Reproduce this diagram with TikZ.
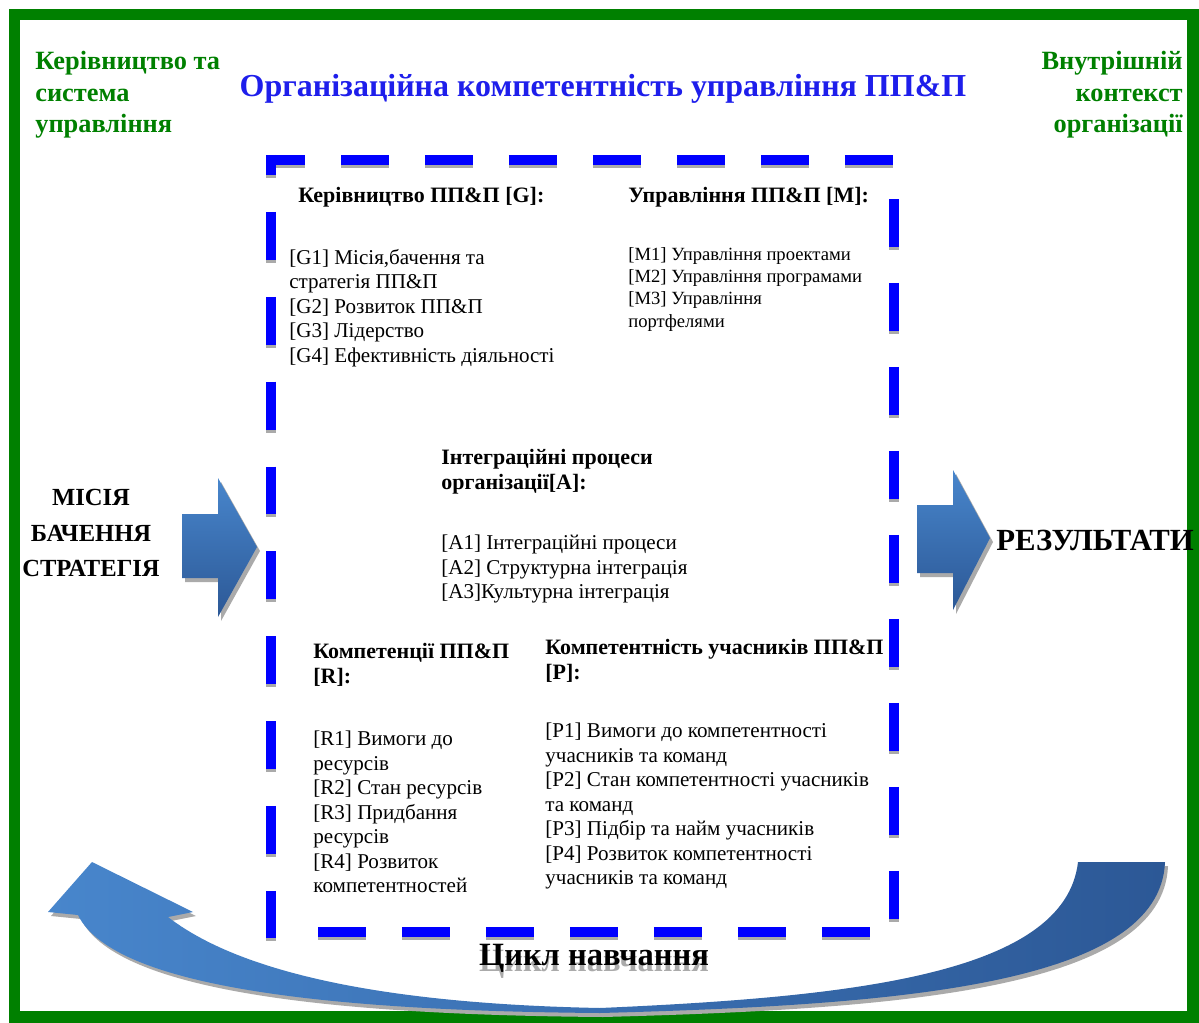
\documentclass[tikz,border=0pt]{standalone}
\usepackage{fontspec}
\setmainfont{Liberation Serif}
\definecolor{framegreen}{RGB}{0,128,0}
\definecolor{titleblue}{RGB}{30,30,235}
\definecolor{dashblue}{RGB}{0,0,255}
\definecolor{arrowtop}{RGB}{72,134,204}
\definecolor{arrowbot}{RGB}{44,88,150}
\definecolor{shadowgray}{RGB}{170,170,170}
\tikzset{
  greentext/.style={font=\fontsize{15}{17.9}\selectfont\bfseries, text=framegreen, inner sep=0pt},
  head/.style={font=\fontsize{12.5}{14.2}\selectfont\bfseries, inner sep=0pt, anchor=north west, align=left},
  items/.style={font=\fontsize{12}{13.9}\selectfont, inner sep=0pt, anchor=north west, align=left},
  smallitems/.style={font=\fontsize{10.6}{12.7}\selectfont, inner sep=0pt, anchor=north west, align=left},
  bigword/.style={font=\fontsize{14}{20.2}\selectfont\bfseries, inner sep=0pt, align=center},
  bluedash/.style={dashblue, line width=5.7pt, dash pattern=on 27.3pt off 20.5pt},
  dashshadow/.style={shadowgray, line width=5.7pt, dash pattern=on 27.3pt off 20.5pt},
  bluearrow/.style={top color=arrowtop, bottom color=arrowbot, draw=none},
  swoosh/.style={left color=arrowtop, right color=arrowbot, draw=none},
}
\begin{document}
\begin{tikzpicture}[x=0.02cm, y=-0.02cm]
\useasboundingbox (0,0) rectangle (1199,1023);
%\draw[step=100,gray,very thin] (0,0) grid (1199,1023);
\draw[framegreen, line width=6.8pt] (14.5,14.5) rectangle (1193,1017);

% corner texts and title
\node[greentext, anchor=north west, align=left] (ctrl) at (35,51) {Керівництво та\\система\\управління};
\node[greentext, anchor=north east, align=right] (context) at (1183,51) {Внутрішній\\контекст\\організації};
\node[font=\fontsize{18.2}{22}\selectfont\bfseries, text=titleblue, inner sep=0pt] (title) at (603,89) {Організаційна компетентність управління ПП\&П};

%------------------------------------------------
% dashed frame
\draw[dashshadow, dash phase=5.1pt] (266,163) -- (900,163);
\draw[dashshadow, dash pattern=on 27.3pt off 21pt, dash phase=15.9pt] (271,158) -- (271,941);
\draw[dashshadow, dash phase=27.3pt] (894,166) -- (894,941);
\draw[dashshadow, dash phase=27.3pt] (282,935) -- (900,935);
\draw[bluedash, dash phase=5.1pt] (266,160) -- (900,160);
\draw[bluedash, dash pattern=on 27.3pt off 21pt, dash phase=15.9pt] (271,155) -- (271,938);
\draw[bluedash, dash phase=27.3pt] (894,163) -- (894,938);
\draw[bluedash, dash phase=27.3pt] (282,932) -- (900,932);

%------------------------------------------------
% blocks
\node[head] (ghead) at (298,187) {Керівництво ПП\&П [G]:};
\node[items] (gitems) at (289,249) {[G1] Місія,бачення та\\стратегія ПП\&П\\{}[G2] Розвиток ПП\&П\\{}[G3] Лідерство\\{}[G4] Ефективність діяльності};
\node[head] (mhead) at (628,187) {Управління ПП\&П [M]:};
\node[smallitems] (mitems) at (628,247) {[M1] Управління проектами\\{}[M2] Управління програмами\\{}[M3] Управління\\портфелями};
\node[head] (ahead) at (441,449) {Інтеграційні процеси\\організації[A]:};
\node[items] (aitems) at (441,535) {[A1] Інтеграційні процеси\\{}[A2] Структурна інтеграція\\{}[A3]Культурна інтеграція};
\node[head] (rhead) at (313,643) {Компетенції ПП\&П\\{}[R]:};
\node[items] (ritems) at (313,731) {[R1] Вимоги до\\ресурсів\\{}[R2] Стан ресурсів\\{}[R3] Придбання\\ресурсів\\{}[R4] Розвиток\\компетентностей};
\node[head] (phead) at (545,639) {Компетентність учасників ПП\&П\\{}[P]:};
\node[items] (pitems) at (545,723) {[P1] Вимоги до компетентності\\учасників та команд\\{}[P2] Стан компетентності учасників\\та команд\\{}[P3] Підбір та найм учасників\\{}[P4] Розвиток компетентності\\учасників та команд};

%------------------------------------------------
% side arrows
\fill[shadowgray] (185,518) -- (221,518) -- (221,482) -- (260,551) -- (221,621) -- (221,582) -- (185,582) -- cycle;
\shade[bluearrow] (182,514) -- (218,514) -- (218,478) -- (257,547) -- (218,617) -- (218,578) -- (182,578) -- cycle;
\node[bigword] (mission) at (91,533) {МІСІЯ\\БАЧЕННЯ\\СТРАТЕГІЯ};

\fill[shadowgray] (920,509) -- (956,509) -- (956,474) -- (993,542) -- (956,614) -- (956,577) -- (920,577) -- cycle;
\shade[bluearrow] (917,505) -- (953,505) -- (953,470) -- (990,538) -- (953,610) -- (953,573) -- (917,573) -- cycle;
\node[font=\fontsize{17.5}{20}\selectfont\bfseries, anchor=west, inner sep=0pt] (results) at (996,540) {РЕЗУЛЬТАТИ};

%------------------------------------------------
% learning cycle
\fill[shadowgray] (95,866) -- (196,916) -- (171,921) .. controls (263,992) and (453,1009) .. (603,1012) .. controls (853,1001) and (1068,979) .. (1081,866) -- (1168,866) .. controls (1163,989) and (903,1009) .. (603,1017) .. controls (353,1015) and (118,995) .. (81,919) -- (51,916) -- cycle;
\shade[swoosh] (92,862) -- (193,912) -- (168,917) .. controls (260,988) and (450,1005) .. (600,1008) .. controls (850,997) and (1065,975) .. (1078,862) -- (1165,862) .. controls (1160,985) and (900,1005) .. (600,1013) .. controls (350,1011) and (115,991) .. (78,915) -- (48,912) -- cycle;
\node[font=\fontsize{18.5}{22}\selectfont\bfseries, text=shadowgray, inner sep=0pt] (cycleshadow) at (594,964) {Цикл навчання};
\node[font=\fontsize{18.5}{22}\selectfont\bfseries, inner sep=0pt] (cycle) at (594,958) {Цикл навчання};
\end{tikzpicture}
\end{document}
